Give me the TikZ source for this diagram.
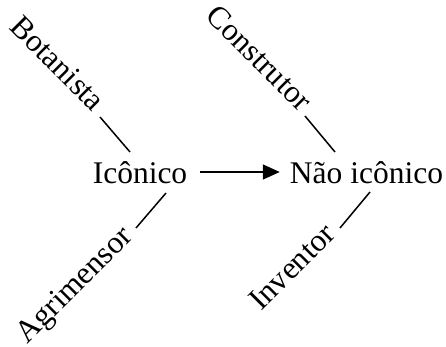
\documentclass[tikz,border=0pt]{standalone}
\usepackage{fontspec}
\setmainfont{Liberation Serif}
\usetikzlibrary{arrows.meta}
\begin{document}
\begin{tikzpicture}[x=1pt,y=-1pt,
  txt/.style={font=\fontsize{31.5}{38}\selectfont, inner sep=0pt},
  lbl/.style={font=\fontsize{31.5}{38}\selectfont, inner sep=0pt},
  conn/.style={line width=1.5pt},
  arr/.style={line width=1.5pt, -{Triangle[length=17pt,width=15pt]}}]
\useasboundingbox (0,0) rectangle (446,347);
% main nodes
\node[txt, anchor=base] (ico) at (140,183) {Icônico};
\node[txt, anchor=base] (nao) at (366.5,183) {Não icônico};
\draw[arr] ([xshift=13pt,yshift=11pt]ico.base east) -- ([xshift=-10pt,yshift=11pt]nao.base west);
% connector ends near main nodes
\coordinate (bt) at (130,152);
\coordinate (ag) at (166,193);
\coordinate (ct) at (335,152);
\coordinate (iv) at (370,192);
% labels
\node[lbl, rotate=-45, anchor=base east] (bot) at (93,113) {Botanista};
\node[lbl, rotate=-45, anchor=base east] (con) at (300,113) {Construtor};
\node[lbl, rotate=45, anchor=base east] (agr) at (134,238) {Agrimensor};
\node[lbl, rotate=45, anchor=base east] (inv) at (337,236) {Inventor};
\draw[conn] ([shift={(7,4)}]bot.base east) -- (bt);
\draw[conn] ([shift={(5,3)}]con.base east) -- (ct);
\draw[conn] ([shift={(2,-10)}]agr.base east) -- (ag);
\draw[conn] ([shift={(3,-8)}]inv.base east) -- (iv);
\end{tikzpicture}
\end{document}
